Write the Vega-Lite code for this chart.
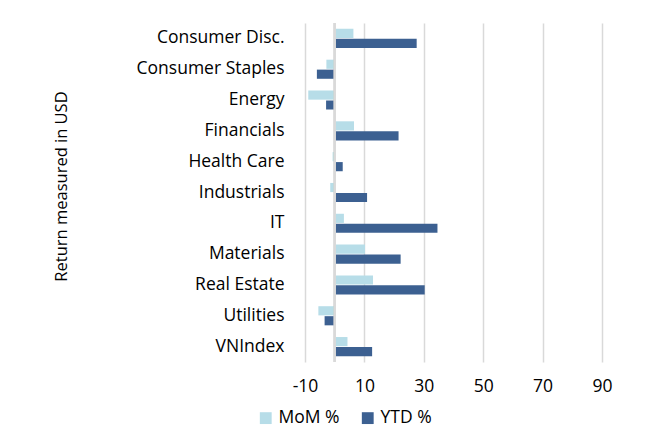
{
  "$schema": "https://vega.github.io/schema/vega-lite/v6.json",
  "autosize": "none",
  "width": 297,
  "height": 339,
  "padding": {"left": 305, "top": 23, "right": 62, "bottom": 70},
  "background": "white",
  "config": {
    "font": "Open Sans",
    "view": {"stroke": null},
    "axis": {"labelFont": "Open Sans", "titleFont": "Open Sans", "labelColor": "#000000", "titleColor": "#000000"}
  },
  "data": {
    "values": [
      {"sector": "Consumer Disc.", "series": "MoM %", "value": 6.3},
      {"sector": "Consumer Disc.", "series": "YTD %", "value": 27.6},
      {"sector": "Consumer Staples", "series": "MoM %", "value": -2.8},
      {"sector": "Consumer Staples", "series": "YTD %", "value": -6.0},
      {"sector": "Energy", "series": "MoM %", "value": -8.9},
      {"sector": "Energy", "series": "YTD %", "value": -2.9},
      {"sector": "Financials", "series": "MoM %", "value": 6.5},
      {"sector": "Financials", "series": "YTD %", "value": 21.5},
      {"sector": "Health Care", "series": "MoM %", "value": -0.7},
      {"sector": "Health Care", "series": "YTD %", "value": 2.7},
      {"sector": "Industrials", "series": "MoM %", "value": -1.5},
      {"sector": "Industrials", "series": "YTD %", "value": 10.9},
      {"sector": "IT", "series": "MoM %", "value": 3.1},
      {"sector": "IT", "series": "YTD %", "value": 34.6},
      {"sector": "Materials", "series": "MoM %", "value": 10.2},
      {"sector": "Materials", "series": "YTD %", "value": 22.2},
      {"sector": "Real Estate", "series": "MoM %", "value": 12.9},
      {"sector": "Real Estate", "series": "YTD %", "value": 30.3},
      {"sector": "Utilities", "series": "MoM %", "value": -5.5},
      {"sector": "Utilities", "series": "YTD %", "value": -3.4},
      {"sector": "VNIndex", "series": "MoM %", "value": 4.3},
      {"sector": "VNIndex", "series": "YTD %", "value": 12.6}
    ]
  },
  "layer": [
    {
      "mark": {"type": "bar"},
      "encoding": {
        "y": {
          "field": "sector",
          "type": "nominal",
          "sort": null,
          "scale": {"paddingInner": 0.38, "paddingOuter": 0.19},
          "axis": {
            "title": "Return measured in USD",
            "titleFontSize": 16.5,
            "titleFontWeight": "normal",
            "titleX": -236,
            "titleY": 163,
            "labelFontSize": 17.5,
            "labelPadding": 21,
            "domain": false,
            "ticks": false,
            "grid": false
          }
        },
        "yOffset": {"field": "series", "type": "nominal", "scale": {"paddingInner": 0.08}},
        "x": {
          "field": "value",
          "type": "quantitative",
          "scale": {"domain": [-10, 90], "nice": false},
          "axis": {
            "title": null,
            "values": [-10, 10, 30, 50, 70, 90],
            "labelExpr": "'' + datum.value",
            "labelFlush": false,
            "labelFontSize": 17.5,
            "labelPadding": 15,
            "domain": false,
            "ticks": false,
            "grid": true,
            "gridColor": "#d9d9d9",
            "gridWidth": 1.5
          }
        },
        "color": {
          "field": "series",
          "type": "nominal",
          "scale": {"domain": ["MoM %", "YTD %"], "range": ["#b7dde8", "#3c6091"]},
          "legend": {
            "title": null,
            "orient": "none",
            "direction": "horizontal",
            "legendX": -48,
            "legendY": 386,
            "symbolType": "square",
            "symbolSize": 140,
            "symbolStrokeWidth": 0,
            "labelFontSize": 17.5,
            "labelFont": "Open Sans",
            "labelColor": "#000000",
            "columnPadding": 19
          }
        }
      }
    },
    {
      "mark": {"type": "rule", "color": "#d9d9d9", "strokeWidth": 1.5},
      "encoding": {"x": {"datum": 0}}
    }
  ]
}
